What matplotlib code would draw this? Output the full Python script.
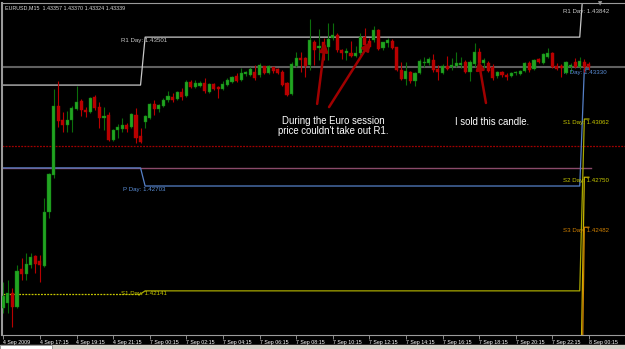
import matplotlib
matplotlib.use("Agg")
import matplotlib.pyplot as plt
from matplotlib.patches import Rectangle
import numpy as np

plt.rcParams['font.family'] = ['Liberation Sans', 'DejaVu Sans']

# ---------------- data (EURUSD M15 candles) ----------------
opens = [
    1.42049, 1.42076, 1.42130, 1.42054, 1.42258, 1.42231, 1.42280, 1.42328, 1.42301, 1.42274,
    1.42564, 1.42762, 1.43132, 1.43057, 1.43030, 1.43057, 1.43116, 1.43159, 1.43110, 1.43100,
    1.43180, 1.43126, 1.43068, 1.43084, 1.42950, 1.43003, 1.43009, 1.43030, 1.43019, 1.43084,
    1.42971, 1.43046, 1.43068, 1.43143, 1.43116, 1.43132, 1.43164, 1.43180, 1.43169, 1.43207,
    1.43185, 1.43260, 1.43234, 1.43239, 1.43255, 1.43207, 1.43250, 1.43234, 1.43223, 1.43244,
    1.43260, 1.43293, 1.43271, 1.43303, 1.43298, 1.43314, 1.43298, 1.43346, 1.43309, 1.43341,
    1.43330, 1.43314, 1.43255, 1.43196, 1.43346, 1.43389, 1.43389, 1.43352, 1.43475, 1.43443,
    1.43475, 1.43448, 1.43496, 1.43512, 1.43432, 1.43416, 1.43416, 1.43400, 1.43416, 1.43502,
    1.43480, 1.43486, 1.43539, 1.43443, 1.43470, 1.43480, 1.43448, 1.43325, 1.43277, 1.43314,
    1.43266, 1.43309, 1.43362, 1.43362, 1.43378, 1.43330, 1.43309, 1.43346, 1.43341, 1.43346,
    1.43352, 1.43368, 1.43314, 1.43357, 1.43421, 1.43362, 1.43362, 1.43341, 1.43293, 1.43314,
    1.43298, 1.43293, 1.43309, 1.43303, 1.43319, 1.43362, 1.43330, 1.43384, 1.43362, 1.43394,
    1.43416, 1.43346, 1.43346, 1.43309, 1.43341, 1.43368, 1.43341, 1.43368, 1.43357]
highs = [
    1.42188, 1.42199, 1.42156, 1.42280, 1.42317, 1.42344, 1.42344, 1.42333, 1.42333, 1.42639,
    1.42773, 1.43223, 1.43266, 1.43100, 1.43105, 1.43132, 1.43239, 1.43169, 1.43126, 1.43180,
    1.43191, 1.43153, 1.43126, 1.43100, 1.43009, 1.43035, 1.43068, 1.43041, 1.43094, 1.43121,
    1.43014, 1.43084, 1.43148, 1.43164, 1.43143, 1.43175, 1.43212, 1.43202, 1.43212, 1.43228,
    1.43271, 1.43271, 1.43271, 1.43266, 1.43282, 1.43255, 1.43255, 1.43239, 1.43266, 1.43282,
    1.43293, 1.43309, 1.43336, 1.43319, 1.43341, 1.43352, 1.43362, 1.43346, 1.43352, 1.43341,
    1.43336, 1.43325, 1.43260, 1.43368, 1.43421, 1.43421, 1.43394, 1.43598, 1.43486, 1.43545,
    1.43496, 1.43577, 1.43577, 1.43523, 1.43437, 1.43443, 1.43480, 1.43453, 1.43523, 1.43550,
    1.43496, 1.43561, 1.43545, 1.43475, 1.43496, 1.43491, 1.43448, 1.43368, 1.43368, 1.43319,
    1.43314, 1.43384, 1.43394, 1.43394, 1.43411, 1.43352, 1.43357, 1.43400, 1.43389, 1.43421,
    1.43394, 1.43378, 1.43378, 1.43470, 1.43443, 1.43389, 1.43373, 1.43357, 1.43319, 1.43319,
    1.43309, 1.43314, 1.43319, 1.43325, 1.43368, 1.43373, 1.43384, 1.43389, 1.43416, 1.43443,
    1.43421, 1.43362, 1.43357, 1.43373, 1.43362, 1.43389, 1.43394, 1.43384, 1.43370]
lows = [
    1.42022, 1.42022, 1.41947, 1.42049, 1.42199, 1.42199, 1.42264, 1.42237, 1.42188, 1.42269,
    1.42532, 1.42746, 1.43019, 1.42992, 1.42992, 1.42992, 1.43110, 1.43078, 1.43073, 1.43094,
    1.43110, 1.43014, 1.43003, 1.42944, 1.42944, 1.42960, 1.42992, 1.42992, 1.43014, 1.42934,
    1.42934, 1.43014, 1.43062, 1.43084, 1.43100, 1.43126, 1.43153, 1.43153, 1.43164, 1.43164,
    1.43180, 1.43228, 1.43228, 1.43234, 1.43202, 1.43202, 1.43218, 1.43175, 1.43218, 1.43239,
    1.43255, 1.43260, 1.43266, 1.43293, 1.43293, 1.43271, 1.43287, 1.43303, 1.43303, 1.43309,
    1.43303, 1.43239, 1.43185, 1.43191, 1.43341, 1.43314, 1.43287, 1.43325, 1.43352, 1.43378,
    1.43378, 1.43378, 1.43486, 1.43421, 1.43384, 1.43378, 1.43394, 1.43394, 1.43405, 1.43448,
    1.43443, 1.43475, 1.43432, 1.43432, 1.43448, 1.43437, 1.43319, 1.43271, 1.43244, 1.43255,
    1.43239, 1.43303, 1.43341, 1.43352, 1.43314, 1.43271, 1.43303, 1.43325, 1.43325, 1.43341,
    1.43336, 1.43309, 1.43266, 1.43341, 1.43357, 1.43336, 1.43314, 1.43271, 1.43282, 1.43287,
    1.43271, 1.43287, 1.43298, 1.43298, 1.43314, 1.43314, 1.43325, 1.43362, 1.43357, 1.43389,
    1.43336, 1.43325, 1.43287, 1.43303, 1.43314, 1.43336, 1.43330, 1.43314, 1.43324]
closes = [
    1.42113, 1.42130, 1.42054, 1.42247, 1.42231, 1.42285, 1.42322, 1.42285, 1.42280, 1.42564,
    1.42767, 1.43132, 1.43051, 1.43030, 1.43057, 1.43121, 1.43153, 1.43110, 1.43100, 1.43175,
    1.43121, 1.43068, 1.43078, 1.42950, 1.43003, 1.43019, 1.43030, 1.43009, 1.43089, 1.42960,
    1.42939, 1.43078, 1.43143, 1.43116, 1.43137, 1.43164, 1.43185, 1.43164, 1.43207, 1.43180,
    1.43260, 1.43234, 1.43255, 1.43255, 1.43212, 1.43250, 1.43223, 1.43223, 1.43250, 1.43271,
    1.43287, 1.43266, 1.43309, 1.43314, 1.43330, 1.43282, 1.43352, 1.43309, 1.43346, 1.43319,
    1.43309, 1.43244, 1.43191, 1.43357, 1.43389, 1.43378, 1.43346, 1.43486, 1.43432, 1.43453,
    1.43443, 1.43491, 1.43512, 1.43432, 1.43416, 1.43427, 1.43400, 1.43416, 1.43502, 1.43459,
    1.43448, 1.43539, 1.43437, 1.43475, 1.43486, 1.43443, 1.43325, 1.43277, 1.43319, 1.43266,
    1.43309, 1.43373, 1.43368, 1.43384, 1.43325, 1.43314, 1.43346, 1.43330, 1.43352, 1.43362,
    1.43362, 1.43314, 1.43368, 1.43421, 1.43362, 1.43378, 1.43319, 1.43282, 1.43314, 1.43298,
    1.43287, 1.43309, 1.43314, 1.43319, 1.43362, 1.43325, 1.43378, 1.43368, 1.43411, 1.43416,
    1.43341, 1.43330, 1.43336, 1.43368, 1.43352, 1.43341, 1.43373, 1.43341, 1.43339]

time_labels = ["4 Sep 2009", "4 Sep 17:15", "4 Sep 19:15", "4 Sep 21:15", "7 Sep 00:15",
               "7 Sep 02:15", "7 Sep 04:15", "7 Sep 06:15", "7 Sep 08:15", "7 Sep 10:15",
               "7 Sep 12:15", "7 Sep 14:15", "7 Sep 16:15", "7 Sep 18:15", "7 Sep 20:15",
               "7 Sep 22:15", "8 Sep 00:15"]
bars_per_label = 8

# daily pivot levels: 4 Sep, 7 Sep, 8 Sep
day_breaks = [30, 126]          # last bar of 4 Sep, last bar of 7 Sep
r1_levels = [1.43244, 1.43501, 1.43842]
p_levels = [1.42800, 1.42703, 1.43330]
s1_levels = [1.42124, 1.42141, 1.43062]
s2_levels = [1.41343, 1.41343, 1.42750]
s3_levels = [1.40781, 1.40781, 1.42482]

red_line_level = 1.42917
pink_line_level = 1.42800

# ---------------- figure ----------------
W, H = 625, 349
fig = plt.figure(figsize=(W / 100, H / 100), dpi=100, facecolor='black')
ax_l, ax_r, ax_t, ax_b = 2, 625, 3, 335
ax = fig.add_axes([ax_l / W, 1 - ax_b / H, (ax_r - ax_l) / W, (ax_b - ax_t) / H])
ax.set_facecolor('black')

px_per_bar = 4.575
x0 = -(3.3 - ax_l) / px_per_bar
ax.set_xlim(x0, x0 + (ax_r - ax_l) / px_per_bar)
ax.set_ylim(1.437 - 0.0000536 * ax_b, 1.437 - 0.0000536 * ax_t)

n = len(opens)
x = np.arange(n)
o = np.array(opens); c = np.array(closes); h = np.array(highs); l = np.array(lows)
up = c >= o

# horizontal lines
ax.axhline(red_line_level, color='#a00000', lw=0.9, ls=(0, (1.5, 1)), zorder=1)
ax.plot([0, n - 1 + 0.5], [pink_line_level] * 2, color='#8a4a6a', lw=1.0, zorder=1)


def pivot_path(levels):
    xs = [0, day_breaks[0], day_breaks[0] + 1, day_breaks[1], day_breaks[1] + 1, n - 1]
    ys = [levels[0], levels[0], levels[1], levels[1], levels[2], levels[2]]
    return xs, ys


xs, ys = pivot_path(r1_levels)
ax.plot(xs, ys, color='#c8c8c8', lw=0.9, zorder=2)
xs, ys = pivot_path(p_levels)
ax.plot(xs, ys, color='#5580c8', lw=0.9, zorder=2)
xs, ys = pivot_path(s1_levels)
ax.plot(xs[:2], ys[:2], color='#c8c800', lw=0.9, ls=(0, (1.5, 1)), zorder=2)
ax.plot(xs[1:], ys[1:], color='#a8a800', lw=0.9, zorder=2)
xs, ys = pivot_path(s2_levels)
ax.plot(xs[2:], ys[2:], color='#c8b400', lw=0.9, zorder=2)
xs, ys = pivot_path(s3_levels)
ax.plot(xs[2:], ys[2:], color='#d08000', lw=0.9, zorder=2)

# bid line
ax.axhline(closes[-1], color='#606060', lw=1.5, zorder=1)

# candles
ax.vlines(x[up], l[up], h[up], color='#0b6e0b', lw=0.8, zorder=3)
ax.vlines(x[~up], l[~up], h[~up], color='#b80000', lw=0.8, zorder=3)
body_lo = np.minimum(o, c)
body_h = np.maximum(np.abs(c - o), 0.00003)
ax.bar(x[up], body_h[up], bottom=body_lo[up], width=0.68, color='#22a422',
       edgecolor='#0e7a0e', lw=0.3, zorder=4)
ax.bar(x[~up], body_h[~up], bottom=body_lo[~up], width=0.68, color='#b80000',
       edgecolor='#b80000', lw=0.3, zorder=4)

# pivot labels
lab_font = dict(fontsize=4.4, va='top', ha='center')
xl = day_breaks[0] + 0.8
ax.text(xl, r1_levels[1] - 0.00003, f"R1 Day: {r1_levels[1]:.5f}", color='#c8c8c8', **lab_font)
ax.text(xl, p_levels[1] - 0.00003, f"P Day: {p_levels[1]:.5f}", color='#5b8fd8', **lab_font)
ax.text(xl, s1_levels[1] - 0.00003, f"S1 Day: {s1_levels[1]:.5f}", color='#c8c800', **lab_font)
xr = day_breaks[1] + 1.3
ax.text(xr, 1.43650, f"R1 Day: {r1_levels[2]:.5f}", color='#c8c8c8', **lab_font)
ax.text(xr, p_levels[2] - 0.00003, f"P Day: {p_levels[2]:.5f}", color='#5b8fd8', **lab_font)
ax.text(xr, s1_levels[2] - 0.00003, f"S1 Day: {s1_levels[2]:.5f}", color='#c8c800', **lab_font)
ax.text(xr, s2_levels[2] - 0.00003, f"S2 Day: {s2_levels[2]:.5f}", color='#c8c800', **lab_font)
ax.text(xr, s3_levels[2] - 0.00003, f"S3 Day: {s3_levels[2]:.5f}", color='#d08000', **lab_font)

# annotations
arrow_kw = dict(arrowstyle='-|>', color='#a00000', lw=1.8, mutation_scale=12, shrinkA=0, shrinkB=0)
ax.annotate('', xy=(70.3, 1.43470), xytext=(68.6, 1.43143), arrowprops=arrow_kw, zorder=6)
ax.annotate('', xy=(80.2, 1.43475), xytext=(71.2, 1.43126), arrowprops=arrow_kw, zorder=6)
ax.annotate('', xy=(103.9, 1.43373), xytext=(105.5, 1.43148), arrowprops=arrow_kw, zorder=6)
ax.text(72.1, 1.43080, "During the Euro session\nprice couldn't take out R1.", color='white',
        fontsize=6.9, ha='center', va='top', linespacing=1.05)
ax.text(106.8, 1.43075, "I sold this candle.", color='white', fontsize=6.9, ha='center', va='top')

# axes styling
ax.set_yticks([])
ax.set_xticks(np.arange(0, n, bars_per_label))
ax.set_xticklabels(time_labels, fontsize=3.8, color='white')
for lbl in ax.get_xticklabels():
    lbl.set_ha('left')
ax.tick_params(axis='x', direction='out', length=3, width=0.6, color='#a0a0a0', pad=0.8)
for side in ['top', 'left', 'bottom']:
    ax.spines[side].set_color('#9a9a9a')
ax.spines['left'].set_linewidth(1.5)
ax.spines['top'].set_linewidth(0.8)
ax.spines['bottom'].set_linewidth(0.8)
ax.spines['right'].set_visible(False)

# header
fig.text(5 / W, 1 - 7.5 / H, "EURUSD,M15  1.43357 1.43370 1.43324 1.43339", color='#d8d8d8',
         fontsize=3.9, va='center', ha='left')
# chart-shift marker
fig.text(600 / W, 1 - 4 / H, "\u25bc", color='#9a9a9a', fontsize=4, ha='center', va='center',
         family='DejaVu Sans')

# window bottom strip
fig.patches.append(Rectangle((0, 0), 1, 4 / H, transform=fig.transFigure, color='#d4d0c8', zorder=0))
fig.patches.append(Rectangle((0, 0), 52 / W, 4 / H, transform=fig.transFigure, facecolor='white',
                             edgecolor='#808080', lw=0.5, zorder=1))

fig.savefig('out.png', dpi=100, facecolor='black')
